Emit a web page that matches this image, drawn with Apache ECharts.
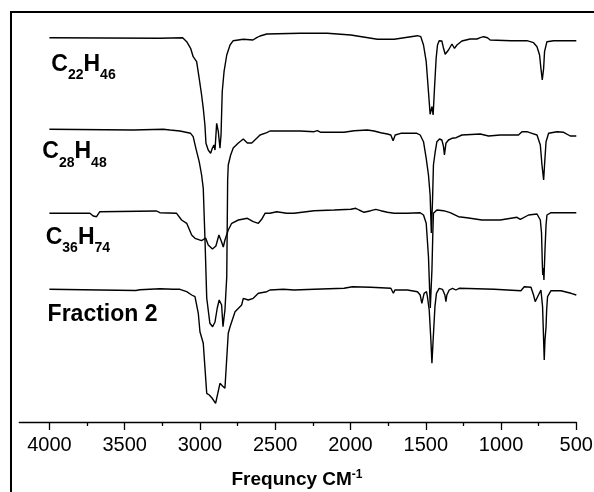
<!DOCTYPE html>
<html>
<head>
<meta charset="utf-8">
<script src="https://cdn.jsdelivr.net/npm/echarts@6/dist/echarts.min.js"></script>
<style>
html,body{margin:0;padding:0;background:#fff;}
#chart{width:594px;height:492px;}
</style>
</head>
<body>
<div id="chart"></div>
<script>
// Wavenumber (cm^-1) tick labels
const majorTicks = [4000, 3500, 3000, 2500, 2000, 1500, 1000, 500];

// Series labels
const seriesNames = ['C22H46', 'C28H48', 'C36H74', 'Fraction 2'];

// Traces: [wavenumber, stacked transmittance (arbitrary units, offset)]
const c22h46 = [
[4000,384.3],[3266,383.7],[3115,384.3],[3088,380.3],[3062,373.7],[3045,365.3],[3022,360.3],[3005,343.7],[2989,327],[2978,313.7],[2967,297],[2960,278.7],[2945,272],[2929,268.7],[2918,273.7],[2907,277],[2900,272],[2889,298.7],[2878,290.3],[2867,273.7],[2860,287],[2852,330.3],[2840,350.3],[2822,367],[2800,377],[2779,381.3],[2712,382.7],[2648,382],[2623,384.3],[2601,386],[2556,388],[2335,388.7],[2154,388.7],[1998,387],[1821,382.7],[1710,382.7],[1555,386.3],[1533,385.3],[1515,377],[1497,360.3],[1482,330.3],[1471,307.7],[1459,315.3],[1451,307],[1442,333.7],[1431,363.7],[1422,377],[1411,381.3],[1393,381],[1382,373.7],[1371,367.7],[1349,372],[1326,378],[1309,373.7],[1293,377],[1260,381],[1205,383],[1160,383],[1138,384.3],[1116,385.3],[1090,384.3],[1072,382],[934,381.3],[828,381.3],[784,379.3],[761,375.3],[744,367],[735,353.7],[726,342],[717,353.7],[711,370.3],[695,380.3],[651,381.3],[500,381.3]
];
const c28h48 = [
[4000,292.7],[3443,292],[3244,292.7],[3199,292],[3133,291],[3062,288.7],[3045,285.3],[3027,273.7],[3005,260.3],[2989,247],[2978,233.7],[2966,180],[2955,124],[2934,98.7],[2916,95.3],[2900,100],[2885,114],[2872,122],[2856,117],[2847,95.3],[2834,112],[2822,145],[2816,242],[2812,257],[2796,267],[2779,274],[2745,279],[2712,283],[2685,279],[2656,279],[2623,283.7],[2601,287],[2556,289.3],[2535,291],[2335,291],[2242,290.3],[2220,291.3],[2197,289.7],[2043,289.7],[1976,291.3],[1888,292],[1843,291],[1799,289.3],[1755,288],[1732,287],[1717,281.3],[1703,287],[1666,288.7],[1559,288.7],[1537,287],[1515,280.3],[1497,263.7],[1482,247],[1471,227],[1463,189],[1455,222],[1449,257],[1437,270.3],[1426,280.3],[1409,283],[1393,282],[1382,275.3],[1376,267],[1366,278.7],[1349,282],[1326,283.7],[1316,282],[1298,284.3],[1260,287],[1138,288],[1083,286],[1005,287],[884,287],[861,290.3],[828,290.3],[795,288.7],[761,287],[739,277],[728,257],[717,242],[711,257],[701,280.3],[684,288.7],[628,290.3],[584,289.7],[540,286],[500,286]
];
const c36h74 = [
[4000,208.7],[3731,208.7],[3709,206],[3687,205.3],[3665,210.3],[3288,211],[3266,209.3],[3155,208.7],[3122,202],[3088,198.7],[3055,187],[3033,183.7],[2989,181.3],[2962,184],[2945,177],[2917,173],[2894,176],[2874,187],[2856,180],[2845,175],[2834,182],[2812,192],[2789,198.7],[2745,202],[2685,203.7],[2646,200.3],[2612,198.7],[2590,202.7],[2568,208.7],[2535,208.7],[2490,210.3],[2424,208.7],[2375,208.7],[2242,211.3],[2109,212],[1998,212.7],[1965,213.7],[1943,212],[1910,209.7],[1865,211.3],[1832,212.7],[1799,211.3],[1755,209.7],[1710,208.7],[1622,208.7],[1537,209.3],[1515,207],[1497,198.7],[1482,165.3],[1470,114],[1459,152],[1453,189],[1449,208.7],[1426,212],[1382,211.3],[1338,209.3],[1283,205.3],[1227,204.3],[1127,202],[1005,202],[894,204.7],[872,202.7],[817,207],[761,208],[739,202],[731,189],[726,160],[723,147],[719,154],[715,142],[708,172],[701,197],[695,207],[668,209.3],[602,209.3],[500,209.3]
];
const fraction2 = [
[4000,132.7],[3665,132],[3426,131.5],[3399,132.3],[3266,133.3],[3177,132.7],[3133,132.7],[3088,130.3],[3055,127],[3033,125.3],[3011,108.7],[3000,90.3],[2989,88.7],[2978,78.7],[2955,28.7],[2938,27],[2920,24],[2896,18.7],[2867,38.7],[2850,36],[2834,33.7],[2812,88.7],[2800,95.3],[2767,110.3],[2723,117],[2712,123.7],[2679,122],[2646,123.7],[2612,128.7],[2556,130.3],[2535,132],[2446,132.7],[2375,132],[2242,132.7],[2043,133.7],[1987,135.3],[1865,134.7],[1732,133.7],[1715,128.7],[1705,132],[1622,132],[1555,130.3],[1537,127],[1526,118.7],[1519,118.7],[1511,128.7],[1495,130.3],[1489,125.3],[1477,112],[1466,82],[1459,58.7],[1451,82],[1439,115.3],[1429,128.7],[1411,133.7],[1389,132.7],[1373,127],[1366,120.3],[1360,127],[1344,132],[1322,133.7],[1300,132],[1278,133.7],[1045,132.7],[868,131.3],[846,135.3],[801,134.7],[784,127],[773,120.3],[768,118.7],[757,125.3],[735,132],[724,115.3],[713,62],[708,82],[701,95],[697,112],[691,125.3],[668,131.3],[602,131.3],[535,128.7],[500,127]
];

const FONT = "'Liberation Sans', Arial, sans-serif";
const chart = echarts.init(document.getElementById('chart'), null, {renderer: 'canvas'});

const formulaRich = {
  m: {fontSize: 23, fontWeight: 'bold', fontFamily: FONT, color: '#000', lineHeight: 40, verticalAlign: 'middle'},
  s: {fontSize: 14, fontWeight: 'bold', fontFamily: FONT, color: '#000', lineHeight: 14, padding: [22, 0, 0, 0], verticalAlign: 'middle'}
};
function formulaText(name) {
  if (name.indexOf(' ') >= 0) return '{m|' + name + '}';
  return name.replace(/([A-Za-z]+)(\d+)/g, '{m|$1}{s|$2}');
}
const labelPos = [[51.3, 44.3], [42.3, 131.7], [45.7, 217.5], [47.6, 295]];

const titles = seriesNames.map((n, i) => ({
  text: formulaText(n),
  left: labelPos[i][0],
  top: labelPos[i][1],
  padding: 0,
  textStyle: {rich: formulaRich, fontSize: 23, fontWeight: 'bold', fontFamily: FONT, color: '#000', lineHeight: 40}
}));
titles.push({
  text: '{a|Frequncy CM}{b|-1}',
  left: 'center',
  top: 465,
  padding: 0,
  textStyle: {
    fontSize: 19, fontWeight: 'bold', fontFamily: FONT, color: '#000', lineHeight: 30,
    rich: {
      a: {fontSize: 19, fontWeight: 'bold', fontFamily: FONT, color: '#000', lineHeight: 30, verticalAlign: 'middle'},
      b: {fontSize: 12, fontWeight: 'bold', fontFamily: FONT, color: '#000', lineHeight: 12, padding: [0, 0, 10, 0], verticalAlign: 'middle'}
    }
  }
});

const traces = [c22h46, c28h48, c36h74, fraction2];

chart.setOption({
  animation: false,
  backgroundColor: '#fff',
  title: titles,
  grid: {left: 19.3, right: 17.7, top: 22, bottom: 70, containLabel: false, outerBoundsMode: 'none'},
  xAxis: {
    type: 'value',
    inverse: true,
    min: 500,
    max: 4200,
    interval: 500,
    axisLine: {show: true, onZero: false, lineStyle: {color: '#000', width: 1.3}},
    axisTick: {show: true, length: 8, inside: false, customValues: majorTicks, lineStyle: {color: '#000', width: 1.3}},
    minorTick: {show: true, splitNumber: 2, length: 4, lineStyle: {color: '#000', width: 1.3}},
    axisLabel: {show: true, customValues: majorTicks, margin: 13, color: '#000', fontSize: 20, fontFamily: FONT,
      formatter: v => String(v)},
    splitLine: {show: false},
    minorSplitLine: {show: false}
  },
  yAxis: {type: 'value', min: 0, max: 400, show: false, splitLine: {show: false}},
  graphic: [{
    type: 'rect',
    shape: {x: 11, y: 12, width: 700, height: 700},
    style: {fill: 'none', stroke: '#000', lineWidth: 2},
    silent: true
  }],
  series: traces.map((d, i) => ({
    name: seriesNames[i],
    type: 'line',
    data: d,
    symbol: 'none',
    lineStyle: {color: '#000', width: 1.4},
    emphasis: {disabled: true},
    silent: true
  }))
});
</script>
</body>
</html>
